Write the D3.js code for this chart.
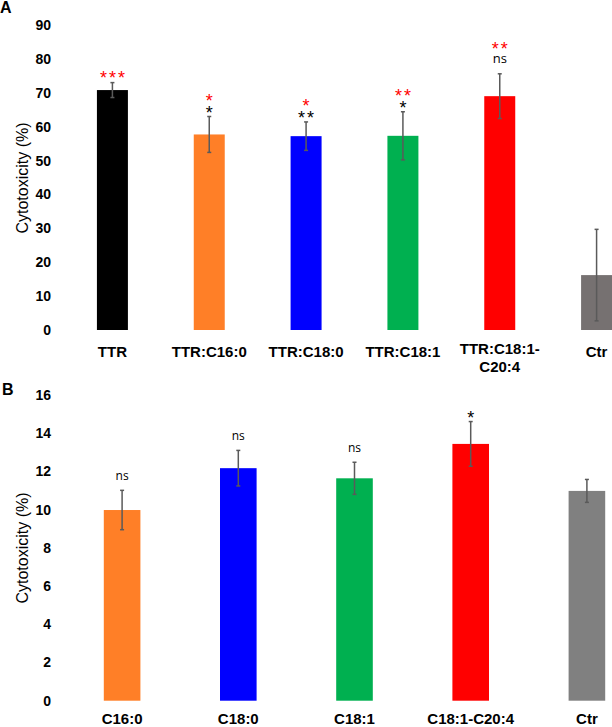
<!DOCTYPE html>
<html>
<head>
<meta charset="utf-8">
<script src="https://cdn.jsdelivr.net/npm/d3@7"></script>
<style>
  html, body { margin: 0; padding: 0; background: #fff; overflow: hidden; }
  svg { display: block; }
</style>
</head>
<body>
<svg id="chart" width="612" height="727"></svg>
<script>
// ---------- Panel A data ----------
const catsA = ["TTR", "TTR:C16:0", "TTR:C18:0", "TTR:C18:1", "TTR:C18:1-C20:4", "Ctr"];
const valsA = [70.8, 57.7, 57.2, 57.3, 69.0, 16.2];
const errA  = [2.2, 5.3, 4.2, 7.1, 6.6, 13.5];
const sigRedA   = ["***", "*", "*", "**", "**", ""];
const sigBlackA = ["", "*", "**", "*", "ns", ""];
const ticksA = [0, 10, 20, 30, 40, 50, 60, 70, 80, 90];

// ---------- Panel B data ----------
const catsB = ["C16:0", "C18:0", "C18:1", "C18:1-C20:4", "Ctr"];
const valsB = [9.98, 12.17, 11.64, 13.44, 10.98];
const errB  = [1.03, 0.93, 0.84, 1.17, 0.6];
const sigRedB   = ["", "", "", "", ""];
const sigBlackB = ["ns", "ns", "ns", "*", ""];
const ticksB = [0, 2, 4, 6, 8, 10, 12, 14, 16];

// ---------- styles ----------
const colorsA = ["#000000", "#FF7F27", "#0000FF", "#00B050", "#FF0000", "#767171"];
const colorsB = ["#FF7F27", "#0000FF", "#00B050", "#FF0000", "#808080"];
const errColor = "#5a5a5a";
const sansBold = "'Liberation Sans', Arial, sans-serif";
const nsFont = "'Open Sans', 'Noto Sans', sans-serif";

const svg = d3.select("#chart");

function panel(opts) {
  const { cats, vals, errs, red, black, ticks, colors, yMax, yTop, yBottom, xLeft, xRight,
          pInner, pOuter, letter, letterX, letterY, labelBase, splitLabels, yLabelY, nsSize } = opts;
  const g = svg.append("g");

  const y = d3.scaleLinear().domain([0, yMax]).range([yBottom, yTop]);
  const x = d3.scaleBand().domain(cats).range([xLeft, xRight])
    .paddingInner(pInner).paddingOuter(pOuter);

  // y axis (labels only)
  const ax = g.append("g").attr("transform", "translate(51,0)")
    .call(d3.axisLeft(y).tickValues(ticks).tickSize(0).tickPadding(0));
  ax.select(".domain").remove();
  ax.selectAll("text")
    .attr("font-family", sansBold).attr("font-weight", "bold")
    .attr("font-size", 14).attr("fill", "#000");

  // y label
  g.append("text")
    .attr("transform", `translate(28,${yLabelY}) rotate(-90)`)
    .attr("text-anchor", "middle")
    .attr("font-family", sansBold).attr("font-size", 16).attr("fill", "#000")
    .text("Cytotoxicity (%)");

  // panel letter
  g.append("text").attr("x", letterX).attr("y", letterY)
    .attr("font-family", sansBold).attr("font-weight", "bold").attr("font-size", 16)
    .text(letter);

  // bars
  g.selectAll("rect.bar").data(cats).join("rect")
    .attr("class", "bar")
    .attr("x", d => x(d))
    .attr("width", x.bandwidth())
    .attr("y", (d, i) => y(vals[i]))
    .attr("height", (d, i) => y(0) - y(vals[i]))
    .attr("fill", (d, i) => colors[i]);

  // error bars + significance
  const cap = 2;
  cats.forEach((c, i) => {
    const cx = x(c) + x.bandwidth() / 2;
    const t = y(vals[i] + errs[i]), b = y(vals[i] - errs[i]);
    g.append("line").attr("x1", cx).attr("x2", cx).attr("y1", t).attr("y2", b)
      .attr("stroke", errColor).attr("stroke-width", 1.5);
    [t, b].forEach(yy => g.append("line")
      .attr("x1", cx - cap).attr("x2", cx + cap).attr("y1", yy).attr("y2", yy)
      .attr("stroke", errColor).attr("stroke-width", 1.5));

    // build stacked lines bottom-up: [text, color, centerY]
    const lines = [];
    if (black[i]) {
      const isNs = black[i] === "ns";
      const cBlack = t - (isNs ? 14 : 8);
      lines.push([black[i], "#000", cBlack]);
      if (red[i]) lines.push([red[i], "#FF0000", cBlack - (isNs ? 15 : 11.5)]);
    } else if (red[i]) {
      lines.push([red[i], "#FF0000", t - 9]);
    }
    if (!lines.length) return;
    const txt = g.append("text").attr("text-anchor", "middle");
    lines.reverse().forEach(([s, col, cy]) => {
      const sp = txt.append("tspan").attr("fill", col).text(s);
      if (s === "ns") {
        sp.attr("x", cx).attr("y", cy + 3.5)
          .attr("font-family", nsFont).attr("font-size", nsSize);
      } else {
        sp.attr("x", cx + 1).attr("y", cy + 10)
          .attr("font-family", sansBold).attr("font-size", 18)
          .attr("letter-spacing", 2);
      }
    });
  });

  // x labels
  cats.forEach(c => {
    const cx = x(c) + x.bandwidth() / 2;
    let lines = [c];
    if (splitLabels && c.length > 10 && c.includes("-")) {
      const k = c.indexOf("-");
      lines = [c.slice(0, k + 1), c.slice(k + 1)];
    }
    const t = g.append("text").attr("text-anchor", "middle")
      .attr("font-family", sansBold).attr("font-weight", "bold").attr("font-size", 15)
      .attr("fill", "#000");
    if (lines.length === 1) {
      t.attr("x", cx).attr("y", labelBase).text(c);
    } else {
      lines.forEach((l, j) => t.append("tspan").attr("x", cx)
        .attr("y", labelBase - 2.5 + j * 18.3).text(l));
    }
  });
}

panel({
  cats: catsA, vals: valsA, errs: errA, red: sigRedA, black: sigBlackA, ticks: ticksA,
  colors: colorsA, yMax: 90, yTop: 25, yBottom: 330, xLeft: 64, xRight: 645,
  pInner: 0.68, pOuter: 0.34, letter: "A", letterX: 0, letterY: 13, labelBase: 356.5,
  splitLabels: true, yLabelY: 178, nsSize: 13
});

panel({
  cats: catsB, vals: valsB, errs: errB, red: sigRedB, black: sigBlackB, ticks: ticksB,
  colors: colorsB, yMax: 16, yTop: 395, yBottom: 700.7, xLeft: 64, xRight: 645,
  pInner: 0.685, pOuter: 0.3425, letter: "B", letterX: 2, letterY: 395, labelBase: 724,
  splitLabels: false, yLabelY: 548, nsSize: 12
});
</script>
</body>
</html>
